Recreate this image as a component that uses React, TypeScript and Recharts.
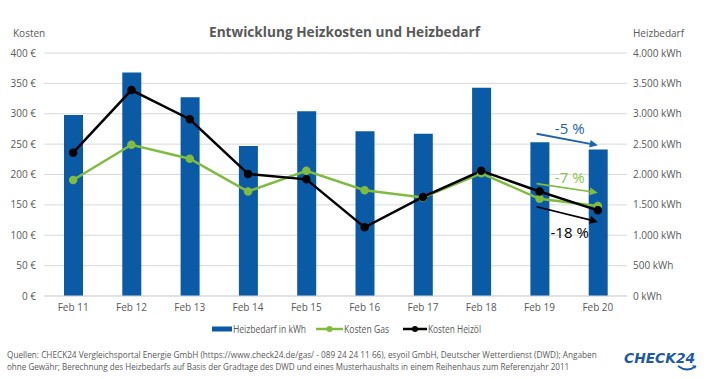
import { useLayoutEffect, useRef, useState } from 'react';
import { ComposedChart, Bar, Line, XAxis, YAxis, CartesianGrid, ReferenceLine } from 'recharts';

const months = ['Feb 11', 'Feb 12', 'Feb 13', 'Feb 14', 'Feb 15', 'Feb 16', 'Feb 17', 'Feb 18', 'Feb 19', 'Feb 20'];
const heizbedarfKwh = [2980, 3680, 3270, 2470, 3040, 2710, 2670, 3430, 2530, 2410];
const kostenGas = [191, 249, 226, 172, 206, 174, 162, 202, 160, 148];
const kostenHeizoel = [236, 339, 291, 201, 192, 113, 163, 206, 172, 141];

const euroTicks = [0, 50, 100, 150, 200, 250, 300, 350, 400];
const kwhTicks = [0, 500, 1000, 1500, 2000, 2500, 3000, 3500, 4000];

// trend arrows Feb 19 -> Feb 20
const trendLabels = ['-5 %', '-7 %', '-18 %'];
const trendKwhArrow = [2670, 2480];
const trendGasArrow = [185, 170];
const trendOelArrow = [147, 122];

const footerLines = [
  'Quellen: CHECK24 Vergleichsportal Energie GmbH (https://www.check24.de/gas/ - 089 24 24 11 66), esyoil GmbH, Deutscher Wetterdienst (DWD); Angaben',
  'ohne Gewähr; Berechnung des Heizbedarfs auf Basis der Gradtage des DWD und eines Musterhaushalts in einem Reihenhaus zum Referenzjahr 2011',
];

const BLUE = '#0b5aa6';
const GREEN = '#80bc3f';
const TEXT = '#595959';
const FONT = '"Open Sans", "Noto Sans", sans-serif';

const data = months.map((m, i) => ({
  month: m,
  heizbedarf: heizbedarfKwh[i],
  gas: kostenGas[i],
  oel: kostenHeizoel[i],
}));

function fmtThousands(v: number): string {
  return String(v).replace(/\B(?=(\d{3})+(?!\d))/g, '.');
}

// squeezes a single line of text horizontally to a target width
function FitText({ text, left, top, width, style }: { text: string; left: number; top: number; width: number; style: any }) {
  const ref = useRef<HTMLSpanElement>(null);
  const [scale, setScale] = useState(1);
  useLayoutEffect(() => {
    if (ref.current) {
      const w = ref.current.offsetWidth;
      if (w > 0) setScale(width / w);
    }
  }, [text, width]);
  return (
    <span
      ref={ref}
      style={{
        position: 'absolute',
        left,
        top,
        whiteSpace: 'nowrap',
        display: 'inline-block',
        lineHeight: 1,
        transform: `scaleX(${scale})`,
        transformOrigin: 'left top',
        ...style,
      }}
    >
      {text}
    </span>
  );
}

function arrowShape(color: string, width: number, label: string, labelColor: string, dy: number) {
  return (props: any) => {
    const { x1, y1, x2, y2 } = props;
    if (x1 == null || x2 == null) return <g />;
    const ang = Math.atan2(y2 - y1, x2 - x1);
    const len = 9;
    const spread = 0.45;
    const p1 = [x2 - len * Math.cos(ang - spread), y2 - len * Math.sin(ang - spread)];
    const p2 = [x2 - len * Math.cos(ang + spread), y2 - len * Math.sin(ang + spread)];
    const mx = (x1 + x2) / 2;
    const my = (y1 + y2) / 2;
    return (
      <g>
        <line x1={x1 - 3} y1={y1} x2={x2 - 5 * Math.cos(ang)} y2={y2 - 5 * Math.sin(ang)} stroke={color} strokeWidth={width} />
        <polygon points={`${x2},${y2} ${p1[0]},${p1[1]} ${p2[0]},${p2[1]}`} fill={color} />
        <text x={mx + 1} y={my + dy} textAnchor="middle" dominantBaseline="central" fill={labelColor} fontSize={15} fontFamily={FONT}>
          {label}
        </text>
      </g>
    );
  };
}

export default function App() {
  return (
    <div style={{ position: 'absolute', left: 0, top: 0, width: 710, height: 379, background: '#fff', fontFamily: FONT, overflow: 'hidden' }}>
      <ComposedChart width={710} height={379} data={data} margin={{ top: 53, right: 0, bottom: 63, left: 0 }} barCategoryGap={0}>
        <CartesianGrid vertical={false} stroke="#d9d9d9" yAxisId="euro" />
        <XAxis
          dataKey="month"
          height={20}
          tickLine={false}
          axisLine={{ stroke: '#d9d9d9' }}
          tickSize={0}
          tickMargin={8}
          tick={{ fill: TEXT, fontSize: 10, fontFamily: FONT }}
        />
        <YAxis
          yAxisId="euro"
          orientation="left"
          width={44}
          domain={[0, 400]}
          ticks={euroTicks}
          axisLine={false}
          tickLine={false}
          tickSize={0}
          tickMargin={8}
          tick={{ fill: TEXT, fontSize: 10, fontFamily: FONT }}
          tickFormatter={(v) => `${v} €`}
        />
        <YAxis
          yAxisId="kwh"
          orientation="right"
          width={83}
          domain={[0, 4000]}
          ticks={kwhTicks}
          axisLine={false}
          tickLine={false}
          tickSize={0}
          tickMargin={6}
          tick={{ fill: TEXT, fontSize: 10, fontFamily: FONT }}
          tickFormatter={(v) => `${fmtThousands(v)} kWh`}
        />
        <Bar yAxisId="kwh" dataKey="heizbedarf" fill={BLUE} barSize={19} isAnimationActive={false} />
        <Line
          yAxisId="euro"
          dataKey="gas"
          stroke={GREEN}
          strokeWidth={2.5}
          dot={{ r: 3, fill: GREEN, stroke: GREEN }}
          isAnimationActive={false}
        />
        <Line
          yAxisId="euro"
          dataKey="oel"
          stroke="#000"
          strokeWidth={2.5}
          dot={{ r: 3, fill: '#000', stroke: '#000' }}
          isAnimationActive={false}
        />
        <ReferenceLine
          yAxisId="kwh"
          segment={[{ x: months[8], y: trendKwhArrow[0] }, { x: months[9], y: trendKwhArrow[1] }]}
          shape={arrowShape('#1f63ad', 2, trendLabels[0], '#1f63ad', -12)}
        />
        <ReferenceLine
          yAxisId="euro"
          segment={[{ x: months[8], y: trendGasArrow[0] }, { x: months[9], y: trendGasArrow[1] }]}
          shape={arrowShape(GREEN, 1.6, trendLabels[1], '#8cc34a', -11)}
        />
        <ReferenceLine
          yAxisId="euro"
          segment={[{ x: months[8], y: trendOelArrow[0] }, { x: months[9], y: trendOelArrow[1] }]}
          shape={arrowShape('#000', 1.6, trendLabels[2], '#000', 18)}
        />
      </ComposedChart>

      <svg width={710} height={340} style={{ position: 'absolute', left: 0, top: 0, pointerEvents: 'none' }}>
        <text x={209} y={37} fontSize={15} fontWeight="bold" fill={TEXT} fontFamily={FONT} textLength={271} lengthAdjust="spacingAndGlyphs">
          Entwicklung Heizkosten und Heizbedarf
        </text>
        <text x={13} y={37} fontSize={10} fill={TEXT} fontFamily={FONT}>Kosten</text>
        <text x={633} y={37} fontSize={10} fill={TEXT} fontFamily={FONT}>Heizbedarf</text>

        {/* legend */}
        <rect x={212} y={326.5} width={20} height={5} fill={BLUE} />
        <text x={233} y={332.5} fontSize={10} fill={TEXT} fontFamily={FONT} textLength={73} lengthAdjust="spacingAndGlyphs">Heizbedarf in kWh</text>
        <line x1={316} y1={329} x2={343} y2={329} stroke={GREEN} strokeWidth={2.5} />
        <circle cx={329.5} cy={329} r={3} fill={GREEN} />
        <text x={344} y={332.5} fontSize={10} fill={TEXT} fontFamily={FONT} textLength={45} lengthAdjust="spacingAndGlyphs">Kosten Gas</text>
        <line x1={403} y1={329} x2={427} y2={329} stroke="#000" strokeWidth={2.5} />
        <circle cx={415} cy={329} r={3} fill="#000" />
        <text x={428} y={332.5} fontSize={10} fill={TEXT} fontFamily={FONT} textLength={53} lengthAdjust="spacingAndGlyphs">Kosten Heizöl</text>
      </svg>

      {/* footer */}
      <FitText text={footerLines[0]} left={7} top={350} width={590} style={{ fontSize: 9.5, color: TEXT, fontFamily: FONT }} />
      <FitText text={footerLines[1]} left={7} top={362} width={562} style={{ fontSize: 9.5, color: TEXT, fontFamily: FONT }} />

      {/* logo */}
      <FitText
        text="CHECK24"
        left={624}
        top={351}
        width={71}
        style={{ fontSize: 14, fontWeight: 900, fontStyle: 'italic', color: '#1c5aa5', fontFamily: '"DejaVu Sans", sans-serif' }}
      />
      <svg width={30} height={12} style={{ position: 'absolute', left: 674, top: 363, pointerEvents: 'none' }}>
        <path d="M4 3 Q13 10 22 3" stroke="#1c5aa5" strokeWidth={1.8} fill="none" />
        <polygon points="22,3 18,2 21,6" fill="#1c5aa5" />
      </svg>
    </div>
  );
}
